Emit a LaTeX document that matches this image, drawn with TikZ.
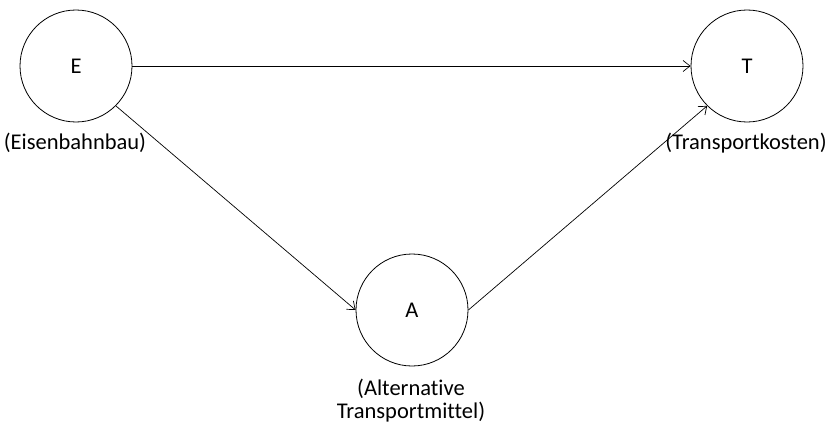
\documentclass[tikz,border=0pt]{standalone}
\usepackage{fontspec}
\setmainfont[Ligatures=NoCommon]{Carlito}
\usetikzlibrary{arrows.meta, positioning}

\begin{document}
\begin{tikzpicture}[x=1pt,y=-1pt,
  font=\fontsize{22.5}{23}\selectfont,
  var/.style={draw, circle, minimum size=112pt, inner sep=0pt, line width=0.8pt},
  lab/.style={align=center, inner sep=0pt},
  >={Straight Barb[length=7pt,width=11pt]}]
\useasboundingbox (0,0) rectangle (829,428);
% Variables
\node[var] (E) at (76,66)  {E};
\node[var] (T) at (747,66) {T};
\node[var] (A) at (412,310) {A};
% Labels
\node[lab] (lE) at (75,143)  {(Eisenbahnbau)};
\node[lab] (lT) at (746,143) {(Transportkosten)};
\node[lab] (lA) at (411,401) {(Alternative\\Transportmittel)};
% Arrows
\draw[->, line width=0.7pt] (E.east) -- (T.west);
\draw[->, line width=0.7pt] (E.south east) -- (A.west);
\draw[->, line width=0.7pt] (A.east) -- (T.south west);
\end{tikzpicture}
\end{document}
